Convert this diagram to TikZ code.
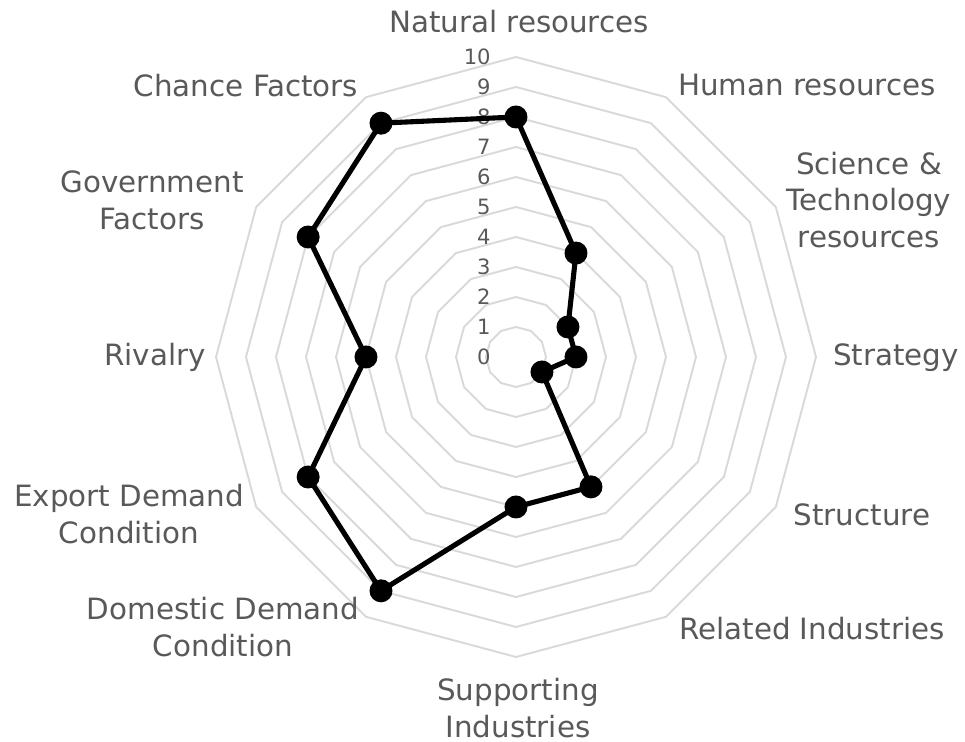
\documentclass[tikz,border=0pt]{standalone}
\usepackage{fontspec}
\setmainfont{DejaVu Sans}
\usepackage{tikz}
\usetikzlibrary{positioning}
\definecolor{gridgray}{HTML}{D9D9D9}
\definecolor{textgray}{HTML}{595959}

\begin{document}
\begin{tikzpicture}[
    x=0.02cm, y=0.02cm,
    gridline/.style={draw=gridgray, line width=1.1pt, line join=round},
    ticklabel/.style={anchor=east, inner sep=0pt, text=textgray, font=\fontsize{12}{14}\selectfont},
    axislabel/.style={align=center, inner sep=0pt, text=textgray, font=\fontsize{16.7}{21}\selectfont},
    dot/.style={circle, fill=black, minimum size=0.46cm, inner sep=0pt},
    dataline/.style={draw=black, line width=2.9pt, line join=round}
]
\useasboundingbox (-516,-385) rectangle (449,357);

% Grid rings
\foreach \k in {1,...,10}
    \draw[gridline] (90:\k*30) \foreach \a in {120,150,...,420} { -- (\a:\k*30) } -- cycle;

% Scale labels
\foreach \k in {0,...,10}
    \node[ticklabel] (t\k) at (-25,\k*30) {\k};

% Axis labels
\node[axislabel] (natural)   at (3,335)     {Natural resources};
\node[axislabel] (human)     at (291,272)   {Human resources};
\node[axislabel] (science)   at (353,157)   {Science \&\\Technology\\resources};
\node[axislabel] (strategy)  at (380,-1)    {Strategy};
\node[axislabel] (structure) at (346,-158)  {Structure};
\node[axislabel] (related)   at (296,-272)  {Related Industries};
\node[axislabel] (support)   at (2,-351)    {Supporting\\Industries};
\node[axislabel] (domestic)  at (-293,-270) {Domestic Demand\\Condition};
\node[axislabel] (export)    at (-387,-157) {Export Demand\\Condition};
\node[axislabel] (rivalry)   at (-361,0)    {Rivalry};
\node[axislabel] (govt)      at (-364,157)  {Government\\Factors};
\node[axislabel] (chance)    at (-270,271)  {Chance Factors};

% Data points
\foreach \v [count=\i] in {8,4,2,2,1,5,5,9,8,5,8,9}
    \node[dot] (p\i) at ({120-30*\i}:{30*\v}) {};

% Data line
\draw[dataline] (p1.center) \foreach \i in {2,...,12} { -- (p\i.center) } -- cycle;

\end{tikzpicture}
\end{document}
